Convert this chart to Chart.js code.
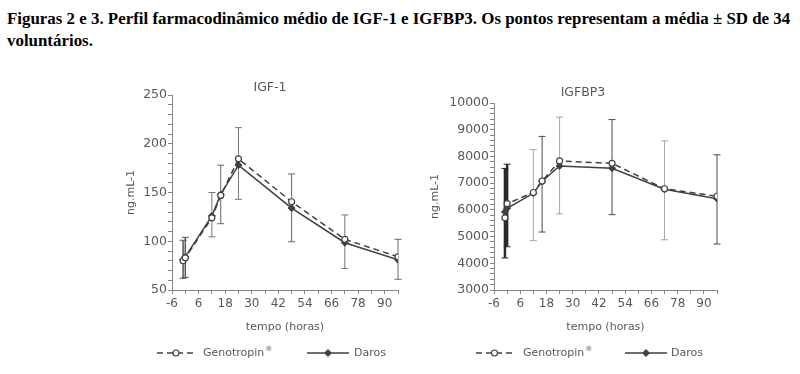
<!DOCTYPE html>
<html><head><meta charset="utf-8">
<script src="https://cdn.jsdelivr.net/npm/chart.js@4.4.1/dist/chart.umd.min.js"></script>
<style>
html,body{margin:0;padding:0;background:#fff;width:800px;height:374px;overflow:hidden;}
#caption{position:absolute;left:7px;top:8px;font-family:'Liberation Serif','Times New Roman',serif;font-weight:bold;font-size:16.9px;line-height:22px;color:#000;white-space:nowrap;}
#c1{position:absolute;left:0;top:60px;}
#c2{position:absolute;left:425px;top:60px;}
</style></head><body>
<div id="caption">Figuras 2 e 3. Perfil farmacodinâmico médio de IGF-1 e IGFBP3. Os pontos representam a média ± SD de 34<br>voluntários.</div>
<canvas id="c1" width="425" height="314"></canvas>
<canvas id="c2" width="375" height="314"></canvas>
<script>
// ---- data ----
const timesH = [-1, 0, 12, 16, 24, 48, 72, 96];
const xTickLabels = ['-6', '6', '18', '30', '42', '54', '66', '78', '90'];
const seriesNames = ['Genotropin', 'Daros'];

const igfYTicks = ['50', '100', '150', '200', '250'];
const igfGenotropin = [80, 83, 124, 147, 184.5, 140.5, 102, 84];
const igfDaros = [81, 84, 126, 148, 178, 134, 98.5, 81];
const igfGenotropinSdHigh = [101, null, 150, null, 216.5, null, 127, null];
const igfGenotropinSdLow  = [62, null, 104.5, null, 143, null, 72, null];
const igfDarosSdHigh = [null, 104, null, 178, null, 169, null, 102];
const igfDarosSdLow  = [null, 63, null, 118, null, 99.5, null, 61];

const bp3YTicks = ['3000', '4000', '5000', '6000', '7000', '8000', '9000', '10000'];
const bp3Genotropin = [5700, 6230, 6650, 7080, 7830, 7740, 6790, 6510];
const bp3Daros = [5920, 6060, 6620, 7070, 7640, 7560, 6770, 6420];
const bp3GenotropinSdHigh = [7550, null, 8260, null, 9470, null, 8580, null];
const bp3GenotropinSdLow  = [4200, null, 4850, null, 5850, null, 4880, null];
const bp3DarosSdHigh = [null, 7710, null, 8750, null, 9380, null, 8060];
const bp3DarosSdLow  = [null, 4620, null, 5170, null, 5820, null, 4720];

// ---- helpers ----
const TXT = '#595959', AX = '#868686', LINE = '#404040';
Chart.defaults.font.family = "'DejaVu Sans', sans-serif";
Chart.defaults.font.size = 11;
Chart.defaults.color = TXT;

function pts(v) { return timesH.map((t, i) => ({ x: t, y: v[i] })); }
function errs(hi, lo) { return timesH.map((t, i) => hi[i] == null ? null : { x: t, hi: hi[i], lo: lo[i] }); }

const errorBarPlugin = {
  id: 'errorBars',
  beforeDatasetsDraw(chart, args, opts) {
    const { ctx, scales: { x, y } } = chart;
    chart.data.datasets.forEach(ds => {
      (ds.errorBars || []).forEach(e => {
        if (!e) return;
        const px = x.getPixelForValue(e.x);
        const top = y.getPixelForValue(e.hi), bot = y.getPixelForValue(e.lo);
        const base = e.x <= 0;
        ctx.save();
        ctx.strokeStyle = base ? opts.baseColor : ds.errorColor;
        ctx.lineWidth = base ? opts.baseWidth : 1;
        ctx.beginPath();
        ctx.moveTo(px, top); ctx.lineTo(px, bot);
        ctx.stroke();
        ctx.lineWidth = 1;
        ctx.beginPath();
        ctx.moveTo(px - 3.5, top); ctx.lineTo(px + 3.5, top);
        ctx.moveTo(px - 3.5, bot); ctx.lineTo(px + 3.5, bot);
        ctx.stroke();
        ctx.restore();
      });
    });
  }
};

const extrasPlugin = {
  id: 'extras',
  afterDraw(chart, args, opts) {
    const ctx = chart.ctx;
    ctx.save();
    // title
    ctx.fillStyle = TXT;
    ctx.font = "12.5px 'DejaVu Sans', sans-serif";
    ctx.textAlign = 'center'; ctx.textBaseline = 'middle';
    ctx.fillText(opts.title, opts.titleX, opts.titleY);
    // legend
    const y = opts.legendY;
    chart.data.datasets.forEach((ds, i) => {
      const it = opts.legend[i];
      ctx.strokeStyle = ds.borderColor; ctx.lineWidth = ds.borderWidth;
      ctx.setLineDash(ds.borderDash || []);
      ctx.beginPath(); ctx.moveTo(it.x0, y); ctx.lineTo(it.x0 + it.len, y); ctx.stroke();
      ctx.setLineDash([]);
      ctx.fillStyle = ds.pointBackgroundColor; ctx.strokeStyle = ds.borderColor; ctx.lineWidth = ds.pointBorderWidth;
      ctx.beginPath();
      const cx = it.x0 + it.len / 2, r = ds.pointRadius;
      if (ds.pointStyle === 'circle') { ctx.arc(cx, y, r, 0, Math.PI * 2); }
      else { ctx.moveTo(cx, y - r); ctx.lineTo(cx + r, y); ctx.lineTo(cx, y + r); ctx.lineTo(cx - r, y); ctx.closePath(); }
      ctx.fill(); ctx.stroke();
      ctx.fillStyle = TXT;
      ctx.font = "11px 'DejaVu Sans', sans-serif";
      ctx.textAlign = 'left'; ctx.textBaseline = 'middle';
      const tx = it.x0 + it.len + it.gap;
      ctx.fillText(ds.label, tx, y);
      if (ds.reg) {
        const w = ctx.measureText(ds.label).width;
        ctx.font = "7px 'DejaVu Sans', sans-serif";
        ctx.fillText('®', tx + w + 1, y - 4);
      }
    });
    ctx.restore();
  }
};

function makeChart(id, cfg) {
  const genDs = {
    label: seriesNames[0], reg: true, data: pts(cfg.gen),
    borderColor: LINE, borderWidth: 1.5, borderDash: [6, 4],
    pointStyle: 'circle', pointRadius: 3, pointBorderWidth: 1.2,
    pointBackgroundColor: '#ffffff', pointBorderColor: LINE,
    errorBars: errs(cfg.genHi, cfg.genLo), errorColor: cfg.genErrColor,
    tension: 0
  };
  const darDs = {
    label: seriesNames[1], data: pts(cfg.dar),
    borderColor: LINE, borderWidth: 1.5,
    pointStyle: 'rectRot', pointRadius: 3.5, pointBorderWidth: 1,
    pointBackgroundColor: LINE, pointBorderColor: LINE,
    errorBars: errs(cfg.darHi, cfg.darLo), errorColor: cfg.darErrColor,
    tension: 0
  };
  return new Chart(document.getElementById(id), {
    type: 'line',
    data: { datasets: [genDs, darDs] },
    plugins: [errorBarPlugin, extrasPlugin],
    options: {
      responsive: false, animation: false, devicePixelRatio: 1,
      layout: { padding: cfg.padding },
      plugins: {
        legend: { display: false }, tooltip: { enabled: false },
        errorBars: { baseColor: cfg.baseColor, baseWidth: cfg.baseWidth },
        extras: cfg.extras
      },
      scales: {
        x: {
          type: 'linear', min: -6, max: 96,
          afterBuildTicks: s => { const t = []; for (let v = -6; v <= 96; v += 6) t.push({ value: v }); s.ticks = t; },
          afterFit: s => { s.height = 50; },
          ticks: { autoSkip: false, maxRotation: 0, padding: 3, font: { size: 12 }, callback: v => xTickLabels.includes(String(v)) ? String(v) : '' },
          grid: { drawOnChartArea: false, tickLength: 4, color: AX },
          border: { color: AX, width: 1 },
          title: { display: true, text: 'tempo (horas)', padding: { top: 0, bottom: 6 } }
        },
        y: {
          type: 'linear', min: cfg.ymin, max: cfg.ymax,
          afterBuildTicks: s => { const t = []; for (let v = cfg.ymin; v <= cfg.ymax; v += cfg.minor) t.push({ value: v }); s.ticks = t; },
          afterFit: s => { s.width = cfg.yWidth; },
          ticks: { autoSkip: false, padding: 1, font: { size: 12.5 }, callback: v => cfg.yLabels.includes(String(v)) ? String(v) : '' },
          grid: { drawOnChartArea: false, tickLength: 4, color: AX },
          border: { color: AX, width: 1 },
          title: { display: true, text: 'ng.mL-1', padding: 0 }
        }
      }
    }
  });
}

makeChart('c1', {
  gen: igfGenotropin, dar: igfDaros,
  genHi: igfGenotropinSdHigh, genLo: igfGenotropinSdLow,
  darHi: igfDarosSdHigh, darLo: igfDarosSdLow,
  genErrColor: '#777777', darErrColor: '#666666', baseColor: '#555555', baseWidth: 1.5,
  ymin: 50, ymax: 250, minor: 10, yLabels: igfYTicks, yWidth: 47,
  padding: { left: 125, right: 27, top: 35, bottom: 34 },
  extras: {
    title: 'IGF-1', titleX: 270, titleY: 28, legendY: 293,
    legend: [{ x0: 157, len: 38, gap: 8 }, { x0: 307, len: 42, gap: 5 }]
  }
});

makeChart('c2', {
  gen: bp3Genotropin, dar: bp3Daros,
  genHi: bp3GenotropinSdHigh, genLo: bp3GenotropinSdLow,
  darHi: bp3DarosSdHigh, darLo: bp3DarosSdLow,
  genErrColor: '#a6a6a6', darErrColor: '#4a4a4a', baseColor: '#2a2a2a', baseWidth: 2.5,
  ymin: 3000, ymax: 10000, minor: 200, yLabels: bp3YTicks, yWidth: 65,
  padding: { left: 4, right: 83, top: 43, bottom: 34 },
  extras: {
    title: 'IGFBP3', titleX: 158, titleY: 33, legendY: 293,
    legend: [{ x0: 51, len: 37, gap: 10 }, { x0: 200, len: 42, gap: 4 }]
  }
});
</script>
</body></html>
